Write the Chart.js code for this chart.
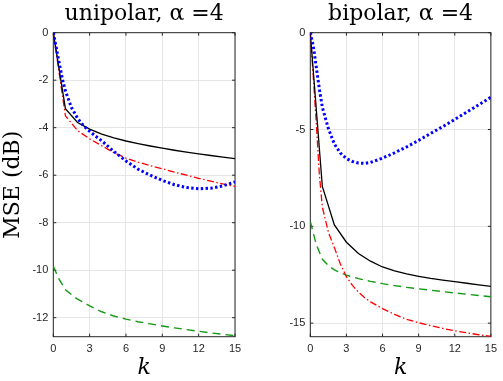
<!DOCTYPE html>
<html><head><meta charset="utf-8">
<script src="https://cdn.jsdelivr.net/npm/chart.js@4.4.1/dist/chart.umd.min.js"></script>
<style>
html,body{margin:0;padding:0;background:#fff;width:503px;height:381px;overflow:hidden}
#c1{position:absolute;left:0;top:0}
#c2{position:absolute;left:250px;top:0}
</style></head><body>
<canvas id="c1" width="250" height="381"></canvas>
<canvas id="c2" width="253" height="381"></canvas>
<script>
// ---- data ----
const kInt  = [0,1,2,3,4,5,6,7,8,9,10,11,12,13,14,15];
const kFine = [0,0.25,0.5,0.75,1,1.5,2,2.5,3,3.5,4,4.5,5,6,7,8,9,10,11,12,13,14,15];
const kGreen = [0,0.5,1,1.5,2,3,4,5,6,7,8,9,10,11,12,13,14,15];

const xTicks = [0,3,6,9,12,15];
const uniYTicks = [0,-2,-4,-6,-8,-10,-12];
const biYTicks = [0,-5,-10,-15];

const titles = ['unipolar, α =4', 'bipolar, α =4'];
const yLabel = 'MSE (dB)';
const xLabel = 'k';

// unipolar
const uniBlack = [0,-3.2,-3.78,-4.06,-4.27,-4.43,-4.56,-4.67,-4.77,-4.86,-4.95,-5.03,-5.1,-5.17,-5.24,-5.3];
const uniRed   = [0,-3.5,-4.12,-4.47,-4.76,-5.05,-5.28,-5.45,-5.6,-5.73,-5.87,-6.0,-6.13,-6.25,-6.37,-6.47];
const uniBlue  = [0,-0.65,-1.3,-1.95,-2.45,-3.15,-3.6,-3.92,-4.15,-4.36,-4.55,-4.78,-5.0,-5.4,-5.75,-6.0,-6.22,-6.4,-6.52,-6.57,-6.55,-6.45,-6.28];
const uniGreen = [-9.84,-10.4,-10.82,-11.03,-11.22,-11.5,-11.75,-11.93,-12.06,-12.17,-12.26,-12.35,-12.43,-12.5,-12.57,-12.64,-12.7,-12.76];

// bipolar
const biBlack = [0,-7.94,-9.93,-10.82,-11.4,-11.8,-12.1,-12.3,-12.46,-12.58,-12.69,-12.78,-12.86,-12.94,-13.02,-13.1];
const biRed   = [0,-2.3,-4.7,-7.3,-9.0,-10.3,-11.1,-11.95,-12.6,-13.05,-13.4,-13.68,-13.9,-14.25,-14.55,-14.8,-14.98,-15.13,-15.27,-15.4,-15.5,-15.6,-15.68];
const biBlue  = [0,-0.7,-1.8,-2.9,-3.85,-4.95,-5.75,-6.22,-6.5,-6.65,-6.73,-6.75,-6.7,-6.48,-6.2,-5.9,-5.56,-5.2,-4.85,-4.48,-4.1,-3.72,-3.33];
const biGreen = [-9.75,-10.95,-11.7,-12.02,-12.25,-12.52,-12.7,-12.84,-12.96,-13.06,-13.15,-13.23,-13.3,-13.37,-13.44,-13.51,-13.57,-13.64];

const pts = (xs, ys) => xs.map((x, i) => ({x, y: ys[i]}));

const boxPlugin = {
  id: 'box',
  beforeDatasetsDraw(chart) {
    const {ctx, chartArea: a, scales: {x, y}} = chart;
    ctx.save();
    ctx.strokeStyle = '#262626';
    ctx.lineWidth = 1;
    ctx.strokeRect(a.left, a.top, a.right - a.left, a.bottom - a.top);
    const t = 3;
    ctx.beginPath();
    x.ticks.forEach(tk => {
      const p = x.getPixelForValue(tk.value);
      ctx.moveTo(p, a.bottom); ctx.lineTo(p, a.bottom - t);
      ctx.moveTo(p, a.top); ctx.lineTo(p, a.top + t);
    });
    y.ticks.forEach(tk => {
      const p = y.getPixelForValue(tk.value);
      ctx.moveTo(a.left, p); ctx.lineTo(a.left + t, p);
      ctx.moveTo(a.right, p); ctx.lineTo(a.right - t, p);
    });
    ctx.stroke();
    ctx.restore();
  }
};

function makeChart(id, title, series, yMin, yTicks, yWidth, padRight, showYTitle) {
  const tickFont = {family: 'Liberation Sans, Arial, sans-serif', size: 11};
  return new Chart(document.getElementById(id), {
    type: 'line',
    data: {
      datasets: [
        {data: series.blue, borderColor: '#0000ff', borderWidth: 3, borderDash: [2.4, 2.4]},
        {data: series.black, borderColor: '#000000', borderWidth: 1.3},
        {data: series.red, borderColor: '#ff0000', borderWidth: 1.3, borderDash: [7, 2.5, 1.5, 2.5]},
        {data: series.green, borderColor: '#129a12', borderWidth: 1.4, borderDash: [8, 5]}
      ]
    },
    options: {
      responsive: false,
      animation: false,
      devicePixelRatio: 1,
      elements: {point: {radius: 0}, line: {tension: 0, fill: false}},
      layout: {padding: {left: 0, right: padRight, top: 0, bottom: 0}},
      plugins: {
        legend: {display: false},
        tooltip: {enabled: false},
        title: {
          display: true, text: title, color: '#000', fullSize: false,
          font: {family: 'DejaVu Serif', size: 22, weight: 'normal', lineHeight: 1.2},
          padding: {top: 1, bottom: 5.3}
        }
      },
      scales: {
        x: {
          type: 'linear', min: 0, max: 15,
          afterBuildTicks: s => { s.ticks = xTicks.map(v => ({value: v})); },
          afterFit: s => { s.height = 44.3; },
          grid: {color: '#e6e6e6', drawTicks: false},
          border: {display: false},
          ticks: {color: '#262626', font: tickFont, padding: 6, maxRotation: 0},
          title: {display: true, text: xLabel, color: '#000',
                  font: {family: 'DejaVu Serif', size: 22, style: 'italic', lineHeight: 1.2},
                  padding: {top: 0, bottom: 0}}
        },
        y: {
          type: 'linear', min: yMin, max: 0,
          afterBuildTicks: s => { s.ticks = yTicks.map(v => ({value: v})); },
          afterFit: s => { s.width = yWidth; },
          grid: {color: '#e6e6e6', drawTicks: false},
          border: {display: false},
          ticks: {color: '#262626', font: tickFont, padding: 5},
          title: {display: showYTitle, text: yLabel, color: '#000',
                  font: {family: 'DejaVu Serif', size: 22, lineHeight: 1.2},
                  padding: {top: 0, bottom: 0}}
        }
      }
    },
    plugins: [boxPlugin]
  });
}

makeChart('c1', titles[0], {
  black: pts(kInt, uniBlack), red: pts(kInt, uniRed),
  blue: pts(kFine, uniBlue), green: pts(kGreen, uniGreen)
}, -12.8, uniYTicks, 53.3, 15, true);

makeChart('c2', titles[1], {
  black: pts(kInt, biBlack), red: pts(kFine, biRed),
  blue: pts(kFine, biBlue), green: pts(kGreen, biGreen)
}, -15.7, biYTicks, 60.3, 11.3, false);
</script>
</body></html>
